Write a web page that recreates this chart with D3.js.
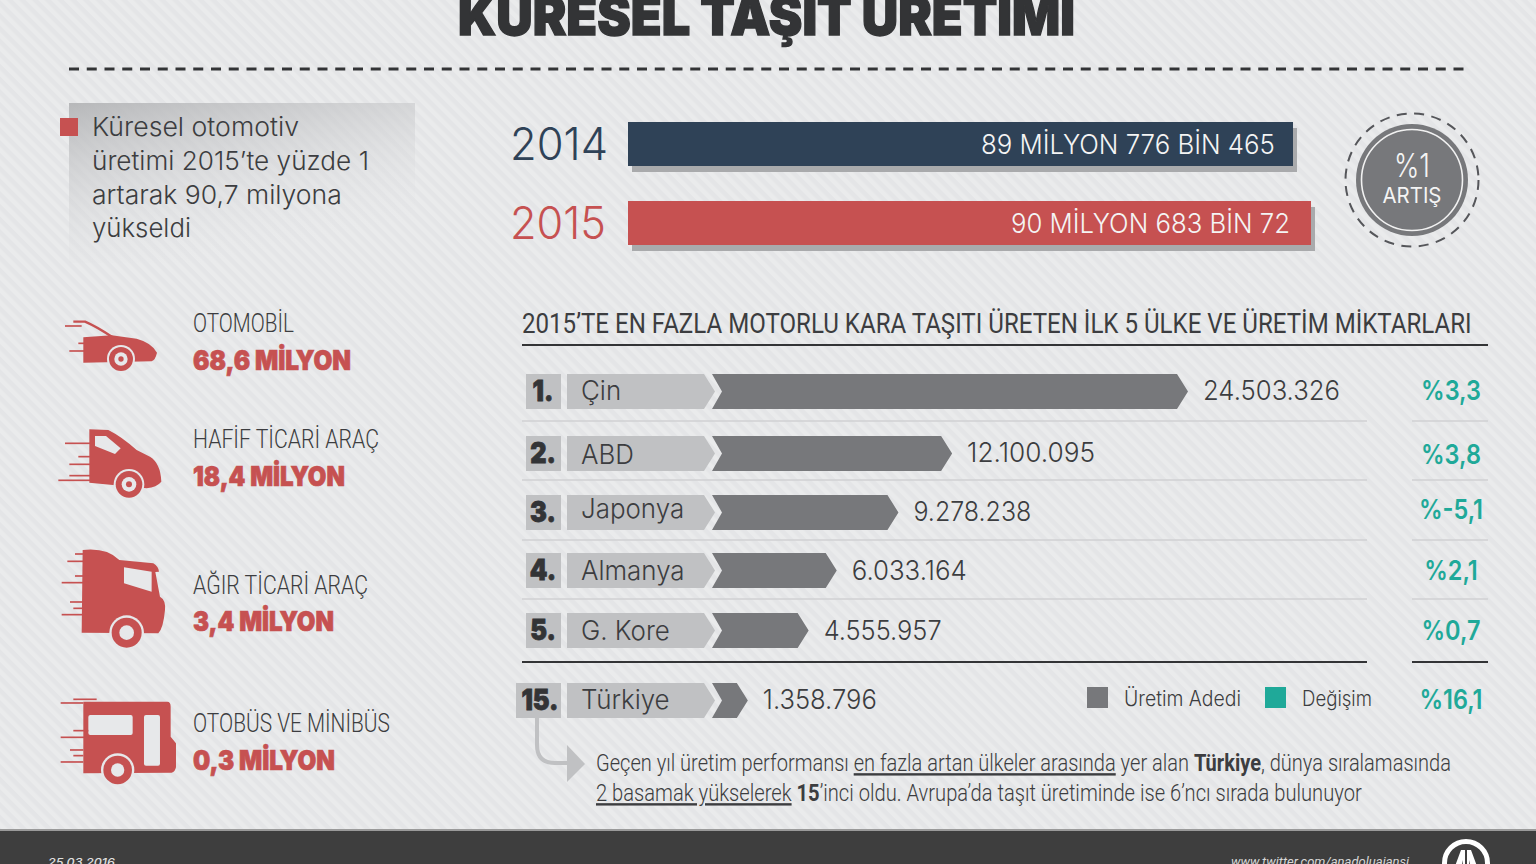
<!DOCTYPE html>
<html lang="tr">
<head>
<meta charset="UTF-8">
<script src="https://cdnjs.cloudflare.com/ajax/libs/d3/7.8.5/d3.min.js"></script>
<style>
  html, body { margin: 0; padding: 0; background: #e7e8ea; overflow: hidden; }
  svg { display: block; }
</style>
</head>
<body>
<svg id="chart" width="1536" height="864"></svg>
<script>
// data
var years = ["2014", "2015"];
var yearTotals = [89776465, 90683072];
var yearLabels = ["89 MİLYON 776 BİN 465", "90 MİLYON 683 BİN 72"];
var vehicleNames = ["OTOMOBİL", "HAFİF TİCARİ ARAÇ", "AĞIR TİCARİ ARAÇ", "OTOBÜS VE MİNİBÜS"];
var vehicleValues = [68.6, 18.4, 3.4, 0.3];
var ranks = [1, 2, 3, 4, 5, 15];
var countries = ["Çin", "ABD", "Japonya", "Almanya", "G. Kore", "Türkiye"];
var production = [24503326, 12100095, 9278238, 6033164, 4555957, 1358796];
var changes = [3.3, 3.8, -5.1, 2.1, 0.7, 16.1];

// layout, kept apart from the data
var rowTops = [374, 436, 495, 553, 613, 683];
var labelBase = [400, 464, 518, 580, 640, 709];
var valueBase = [400, 462, 521, 580, 640, 709];
var changeBase = [400, 464, 519, 580, 640, 709];
var valueW = [137, 128, 118, 115, 118, 114];
var rowH = 35;
var nameBase = [332, 448, 594, 732];
var numBase = [370, 486, 631, 770];
var nameW = [101, 186, 175, 197];
var numW = [158, 152, 141, 142];

var RED = "#c65151", NAVY = "#2f4257", GREY = "#77787b", LIGHT = "#c0c1c3", TEAL = "#1fa999", INK = "#3c3d40", BG = "#e7e8ea";
var WIDE = "Inter, sans-serif", NARROW = "Roboto, sans-serif";

var tr = d3.formatLocale({decimal: ",", thousands: ".", grouping: [3], currency: ["", ""], minus: "-"});
var fmtInt = tr.format(",d"), fmt1 = tr.format(".1f");

var svg = d3.select("#chart");
var defs = svg.append("defs");

var pat = defs.append("pattern").attr("id", "stripes").attr("width", 9).attr("height", 9)
  .attr("patternUnits", "userSpaceOnUse").attr("patternTransform", "rotate(-45)");
pat.append("rect").attr("width", 9).attr("height", 9).attr("fill", "#e4e5e7");
pat.append("rect").attr("width", 4.5).attr("height", 9).attr("fill", "#eaebec");

var grad = defs.append("linearGradient").attr("id", "fade")
  .attr("x1", 0).attr("y1", 0).attr("x2", 0.45).attr("y2", 1);
grad.append("stop").attr("offset", 0).attr("stop-color", "#b4b5b7").attr("stop-opacity", 0.95);
grad.append("stop").attr("offset", 1).attr("stop-color", "#e7e8ea").attr("stop-opacity", 0);

svg.append("rect").attr("width", 1536).attr("height", 864).attr("fill", "url(#stripes)");

// text helper: opt.w squeezes the text to a width, opt.k scales it horizontally
function txt(parent, str, x, y, opt) {
  var t = parent.append("text")
    .attr("font-family", opt.font || WIDE)
    .attr("font-size", opt.size)
    .attr("font-weight", opt.weight || 300)
    .attr("fill", opt.fill || INK)
    .text(str);
  if (opt.bold) t.attr("stroke", opt.fill || INK).attr("stroke-width", opt.bold);
  var k = opt.k || 1;
  if (opt.w) k = opt.w / t.node().getComputedTextLength();
  var dx = 0;
  if (opt.anchor === "end") dx = -t.node().getComputedTextLength() * k;
  if (opt.anchor === "middle") dx = -t.node().getComputedTextLength() * k / 2;
  t.attr("transform", "translate(" + (x + dx) + "," + y + ") scale(" + k + ",1)");
  return t;
}

// title and the dashed rule
txt(svg, "KÜRESEL TAŞIT ÜRETİMİ", 458, 35, {size: 54, weight: 900, w: 617, fill: "#333436", bold: 1.4});
svg.append("line").attr("x1", 69).attr("x2", 1467).attr("y1", 69).attr("y2", 69)
  .attr("stroke", "#333436").attr("stroke-width", 3).attr("stroke-dasharray", "10 7.75");

// intro box
svg.append("rect").attr("x", 69).attr("y", 103).attr("width", 346).attr("height", 160).attr("fill", "url(#fade)");
svg.append("rect").attr("x", 60).attr("y", 118).attr("width", 18).attr("height", 18).attr("fill", RED);
var introLines = ["Küresel otomotiv", "üretimi 2015’te yüzde 1", "artarak 90,7 milyona", "yükseldi"];
var introW = [207, 277, 250, 99];
introLines.forEach(function(s, i) {
  txt(svg, s, 92, 136 + i * 33.8, {size: 26, w: introW[i]});
});

// 2014 / 2015 bars, the axis is cut like in the original
var xTotal = d3.scaleLinear().domain(d3.extent(yearTotals)).range([1293, 1311]);
var yTotal = d3.scaleOrdinal().domain(years).range([122, 201]);
var barLeft = 628, barH = 44;
years.forEach(function(y, i) {
  var col = i === 0 ? NAVY : RED;
  var w = xTotal(yearTotals[i]) - barLeft;
  svg.append("rect").attr("x", barLeft + 4).attr("y", yTotal(y) + 6).attr("width", w).attr("height", barH).attr("fill", "#a9aaac");
  svg.append("rect").attr("x", barLeft).attr("y", yTotal(y)).attr("width", w).attr("height", barH).attr("fill", col);
  txt(svg, y, 510, yTotal(y) + 38, {size: 45, w: i === 0 ? 98 : 96, fill: col});
  txt(svg, yearLabels[i], xTotal(yearTotals[i]) - (i === 0 ? 18 : 21), yTotal(y) + 32, {size: 27, anchor: "end", fill: "#f4f4f4", w: i === 0 ? 294 : 279});
});

// %1 badge
var badge = svg.append("g").attr("transform", "translate(1412,180)");
badge.append("circle").attr("r", 66.5).attr("fill", "none").attr("stroke", "#55565a").attr("stroke-width", 2).attr("stroke-dasharray", "10 7.5");
badge.append("circle").attr("r", 56).attr("fill", GREY);
badge.append("circle").attr("r", 50.5).attr("fill", "none").attr("stroke", "#f1f1f1").attr("stroke-width", 1.6);
txt(badge, "%1", 0, -3, {size: 33, anchor: "middle", fill: "#f4f4f4", w: 36});
txt(badge, "ARTIŞ", 0, 23, {size: 21, weight: 400, anchor: "middle", fill: "#f4f4f4", w: 59});

// vehicle icons, drawn in a 3x grid and shrunk
function wheel(g, cx, cy, r0, r1, r2, r3) {
  g.append("circle").attr("cx", cx).attr("cy", cy).attr("r", r0).attr("fill", BG);
  g.append("circle").attr("cx", cx).attr("cy", cy).attr("r", r1).attr("fill", RED);
  g.append("circle").attr("cx", cx).attr("cy", cy).attr("r", r2).attr("fill", BG);
  if (r3) g.append("circle").attr("cx", cx).attr("cy", cy).attr("r", r3).attr("fill", RED);
}
function speed(g, segs) {
  segs.forEach(function(s) {
    g.append("line").attr("x1", s[0]).attr("x2", s[1]).attr("y1", s[2]).attr("y2", s[2])
      .attr("stroke", RED).attr("stroke-width", 5);
  });
}
function icon(ox, oy) {
  return svg.append("g").attr("transform", "translate(" + ox + "," + oy + ") scale(0.3333)");
}
var car = icon(40, 300);
car.append("path").attr("fill", RED).attr("d", "M130 112 L215 106 L290 116 Q335 128 351 158 Q346 180 335 184 L130 188 Z");
car.append("path").attr("fill", "none").attr("stroke", RED).attr("stroke-width", 7).attr("d", "M100 65 L135 65 Q170 80 218 112");
speed(car, [[75, 125, 78], [115, 135, 130], [88, 135, 153]]);
wheel(car, 243, 177, 42, 36, 20, 8);

var van = icon(40, 300);
van.append("path").attr("fill", RED).attr("d", "M148 388 L205 390 Q245 410 290 450 L330 470 Q362 490 364 545 Q350 562 320 565 L148 548 Z");
van.append("path").attr("fill", BG).attr("d", "M165 408 L198 408 L242 445 L225 462 L165 438 Z");
speed(van, [[75, 150, 430], [115, 150, 470], [88, 150, 493], [88, 150, 527], [55, 150, 541]]);
wheel(van, 267, 553, 46, 40, 22, 9);

var truck = icon(40, 530);
truck.append("path").attr("fill", RED).attr("d", "M128 60 Q200 52 238 90 L340 100 Q356 110 357 125 L346 126 L360 200 Q378 210 375 240 Q370 295 355 310 L125 308 Z");
truck.append("path").attr("fill", BG).attr("d", "M252 112 L335 125 L335 185 L252 160 Z");
speed(truck, [[105, 130, 72], [82, 130, 94], [105, 145, 138], [65, 145, 158], [90, 130, 216], [100, 130, 235], [65, 130, 254]]);
wheel(truck, 260, 308, 52, 45, 22);

var bus = icon(40, 530);
bus.append("path").attr("fill", RED).attr("d", "M130 515 L382 515 Q392 515 392 530 L392 620 L408 640 L408 712 Q405 726 395 728 L130 730 Z");
bus.append("rect").attr("x", 145).attr("y", 555).attr("width", 133).attr("height", 60).attr("rx", 6).attr("fill", BG);
bus.append("rect").attr("x", 312).attr("y", 555).attr("width", 48).attr("height", 152).attr("rx", 6).attr("fill", BG);
speed(bus, [[62, 130, 519], [100, 170, 508], [100, 145, 602], [62, 145, 622], [90, 130, 660], [100, 130, 677], [62, 130, 696]]);
wheel(bus, 233, 720, 50, 43, 20);

// vehicle labels
vehicleNames.forEach(function(s, i) {
  txt(svg, s, 193, nameBase[i], {size: 25, font: NARROW, w: nameW[i]});
  txt(svg, fmt1(vehicleValues[i]) + " MİLYON", 193, numBase[i], {size: 27, weight: 900, fill: RED, w: numW[i], bold: 0.7});
});

// ranking block
txt(svg, "2015’TE EN FAZLA MOTORLU KARA TAŞITI ÜRETEN İLK 5 ÜLKE VE ÜRETİM MİKTARLARI", 522, 333, {size: 28, weight: 400, font: NARROW, w: 950});
svg.append("line").attr("x1", 522).attr("x2", 1488).attr("y1", 345).attr("y2", 345).attr("stroke", "#333436").attr("stroke-width", 2);

var rowY = d3.scaleOrdinal().domain(countries).range(rowTops);
var xProd = d3.scaleLinear().domain([0, d3.max(production)]).range([722, 1188]);
var seps = [421, 480, 540, 599];
seps.forEach(function(y) {
  [[522, 1367], [1412, 1488]].forEach(function(r) {
    svg.append("line").attr("x1", r[0]).attr("x2", r[1]).attr("y1", y).attr("y2", y).attr("stroke", "#d0d1d3").attr("stroke-width", 1.5);
  });
});
[[522, 1367], [1412, 1488]].forEach(function(r) {
  svg.append("line").attr("x1", r[0]).attr("x2", r[1]).attr("y1", 662).attr("y2", 662).attr("stroke", "#333436").attr("stroke-width", 2);
});

var rows = svg.selectAll("g.row").data(countries).join("g").attr("class", "row");
rows.each(function(c, i) {
  var g = d3.select(this), t = rowY(c), m = t + rowH / 2, b = t + rowH;
  var left = ranks[i] > 9 ? 516 : 526;
  g.append("rect").attr("x", left).attr("y", t).attr("width", 561 - left).attr("height", rowH).attr("fill", LIGHT);
  txt(g, ranks[i] + ".", ranks[i] > 9 ? 540 : 543, t + 27, {size: 28, weight: 900, anchor: "middle", fill: "#333436", k: 0.9, bold: 0.8});
  g.append("path").attr("fill", LIGHT).attr("d", d3.line()([[567, t], [704, t], [715, m], [704, b], [567, b]]) + "Z");
  var tip = xProd(production[i]);
  g.append("path").attr("fill", GREY).attr("d", d3.line()([[712, t], [tip - 11, t], [tip, m], [tip - 11, b], [712, b], [722, m]]) + "Z");
  txt(g, c, 581, labelBase[i], {size: 27, k: 0.96});
  txt(g, fmtInt(production[i]), tip + 15, valueBase[i], {size: 27, w: valueW[i]});
  txt(g, "%" + fmt1(changes[i]), 1451, changeBase[i], {size: 27, weight: 600, anchor: "middle", fill: TEAL, k: 0.87});
});

// legend
svg.append("rect").attr("x", 1087).attr("y", 687).attr("width", 21).attr("height", 21).attr("fill", GREY);
txt(svg, "Üretim Adedi", 1124, 706, {size: 21, w: 117});
svg.append("rect").attr("x", 1265).attr("y", 687).attr("width", 21).attr("height", 21).attr("fill", TEAL);
txt(svg, "Değişim", 1302, 706, {size: 21, w: 70});

// arrow and note
svg.append("path").attr("fill", "none").attr("stroke", LIGHT).attr("stroke-width", 4)
  .attr("d", "M537 718 L537 745 Q537 763 555 763 L570 763");
svg.append("path").attr("fill", LIGHT).attr("d", "M567 745 L585 764 L567 782 Z");

var note1 = txt(svg, "", 596, 771, {size: 24, font: NARROW});
note1.append("tspan").text("Geçen yıl üretim performansı ");
note1.append("tspan").attr("text-decoration", "underline").text("en fazla artan ülkeler arasında");
note1.append("tspan").text(" yer alan ");
note1.append("tspan").attr("font-weight", 700).text("Türkiye");
note1.append("tspan").text(", dünya sıralamasında");
var note2 = txt(svg, "", 596, 801, {size: 24, font: NARROW});
note2.append("tspan").attr("text-decoration", "underline").text("2 basamak yükselerek");
note2.append("tspan").text(" ");
note2.append("tspan").attr("font-weight", 700).text("15");
note2.append("tspan").text("’inci oldu. Avrupa’da taşıt üretiminde ise 6’ncı sırada bulunuyor");
note1.attr("transform", "translate(596,771) scale(" + (855 / note1.node().getComputedTextLength()) + ",1)");
note2.attr("transform", "translate(596,801) scale(" + (766 / note2.node().getComputedTextLength()) + ",1)");

// footer
svg.append("rect").attr("x", 0).attr("y", 829).attr("width", 1536).attr("height", 2).attr("fill", "#9a9a9a");
svg.append("rect").attr("x", 0).attr("y", 831).attr("width", 1536).attr("height", 33).attr("fill", "#3e3e3e");
txt(svg, "25.03.2016", 48, 866, {size: 11, weight: 500, fill: "#e0e0e0", w: 67}).attr("font-style", "italic");
txt(svg, "www.twitter.com/anadoluajansi", 1231, 866, {size: 12, weight: 400, font: NARROW, fill: "#d8d8d8", w: 184}).attr("font-style", "italic");
var logo = svg.append("g").attr("transform", "translate(1466,863)");
logo.append("circle").attr("r", 21.5).attr("fill", "none").attr("stroke", "#fff").attr("stroke-width", 5);
logo.append("path").attr("fill", "#fff").attr("fill-rule", "evenodd")
  .attr("d", "M-15 14 L-5 -13 L-1 -13 L-1 14 Z M-5 6 L-3 6 L-3 -3 Z M15 14 L5 -13 L1 -13 L1 14 Z M5 6 L3 6 L3 -3 Z");
</script>
</body>
</html>
